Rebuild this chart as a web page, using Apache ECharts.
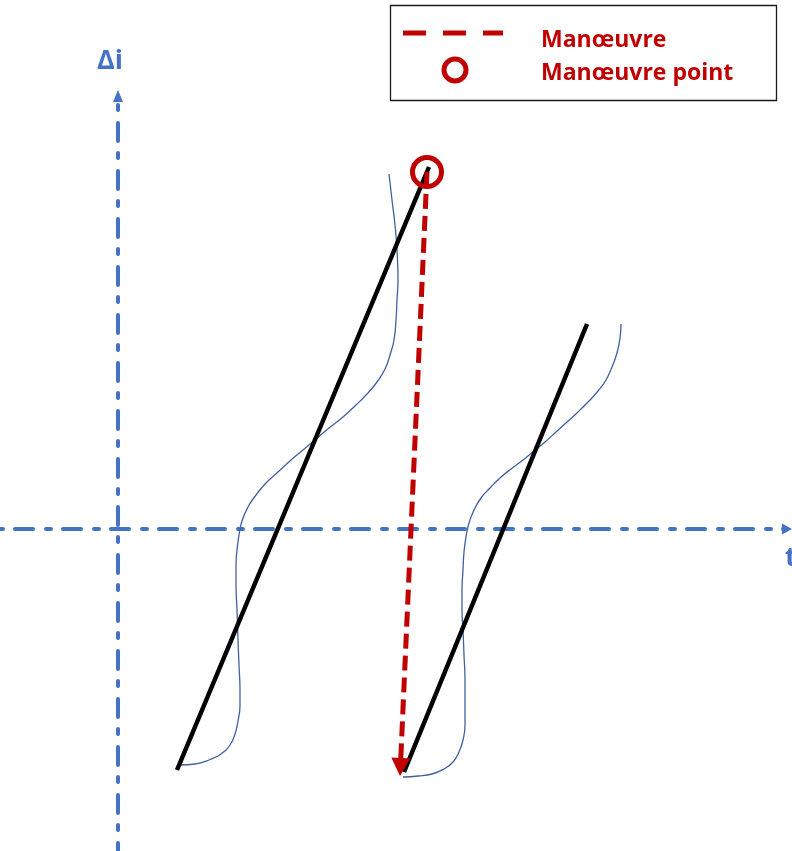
<!DOCTYPE html>
<html>
<head>
<meta charset="utf-8">
<title>Δi drift and manœuvre</title>
<script src="https://cdn.jsdelivr.net/npm/echarts@6/dist/echarts.min.js"></script>
<style>
  html, body { margin: 0; padding: 0; background: #fff; }
  #chart { width: 792px; height: 851px; }
</style>
</head>
<body>
<div id="chart"></div>
<script>
// Schematic Δi(t): secular drift (black), oscillating Δi (blue), manœuvre reset (red).
const driftBefore = [[5.9, -24.1], [31.1, 36.2]];
const driftAfter = [[28.6, -24.3], [46.9, 20.5]];

const oscillationBefore = [
  [6.2, -23.6], [7.7, -23.5], [9.1, -23.1], [10.3, -22.5], [11.2, -21.6],
  [11.7, -20.5], [12.0, -19.2], [12.2, -17.6], [12.2, -16.1], [12.1, -13.6],
  [12.0, -11.1], [11.9, -8.1], [11.8, -5.6], [11.8, -3.6], [11.9, -2.1],
  [12.1, -0.6], [12.4, 0.8], [13.0, 2.2], [13.8, 3.4], [14.8, 4.6],
  [16.0, 5.7], [17.3, 6.9], [18.5, 7.9], [19.8, 9.0], [21.1, 10.1],
  [22.5, 11.2], [23.8, 12.4], [24.9, 13.5], [25.9, 14.7], [26.7, 16.0],
  [27.2, 17.4], [27.6, 18.9], [27.8, 20.9], [27.9, 22.9], [28.0, 24.9],
  [27.9, 27.9], [27.7, 30.4], [27.4, 32.9], [27.1, 35.5]
];
const oscillationAfter = [
  [28.5, -24.8], [30.0, -24.7], [31.4, -24.5], [32.6, -24.0], [33.5, -23.3],
  [34.1, -22.3], [34.5, -21.1], [34.7, -19.6], [34.7, -17.6], [34.7, -15.1],
  [34.6, -12.6], [34.5, -10.1], [34.4, -8.1], [34.4, -6.1], [34.5, -4.1],
  [34.6, -2.3], [34.8, -0.8], [35.1, 0.6], [35.6, 1.9], [36.3, 3.1],
  [37.2, 4.1], [38.2, 5.1], [39.3, 6.0], [40.5, 6.9], [41.6, 7.8],
  [42.7, 8.7], [43.8, 9.7], [44.9, 10.7], [46.0, 11.7], [47.1, 12.8],
  [48.0, 13.8], [48.8, 14.9], [49.4, 16.2], [49.9, 17.6], [50.2, 19.1],
  [50.3, 20.5]
];

const manoeuvrePoint = [30.9, 35.7];
const manoeuvreEnd = [28.24, -23.8];

const legendLabels = ['Manœuvre', 'Manœuvre point'];
const axisNames = ['t', 'Δi'];

const RED = '#C00000';
const AXIS_BLUE = '#4472C4';
const CURVE_BLUE = '#41609f';

const chart = echarts.init(document.getElementById('chart'), null, { renderer: 'canvas' });

const axisLineStyle = {
  color: AXIS_BLUE,
  width: 4,
  type: [18, 13, 5, 12],
  dashOffset: 33
};

const curveStyle = { color: CURVE_BLUE, width: 1.3 };

chart.setOption({
  animation: false,
  backgroundColor: '#ffffff',
  grid: { left: 0, right: 5, top: 96, bottom: 0, containLabel: false },
  xAxis: {
    type: 'value',
    min: -11.8,
    max: 66.9,
    axisLine: {
      show: true,
      onZero: true,
      symbol: ['none', 'triangle'],
      symbolSize: [11, 10],
      lineStyle: axisLineStyle
    },
    axisTick: { show: false },
    axisLabel: { show: false },
    splitLine: { show: false }
  },
  yAxis: {
    type: 'value',
    min: -32.2,
    max: 43.3,
    axisLine: {
      show: true,
      onZero: true,
      symbol: ['none', 'triangle'],
      symbolSize: [10, 12],
      lineStyle: Object.assign({}, axisLineStyle, { dashOffset: 10 })
    },
    axisTick: { show: false },
    axisLabel: { show: false },
    splitLine: { show: false }
  },
  series: [
    {
      name: 'oscillation-before',
      type: 'line',
      data: oscillationBefore,
      smooth: 0.5,
      symbol: 'none',
      z: 2,
      lineStyle: curveStyle
    },
    {
      name: 'oscillation-after',
      type: 'line',
      data: oscillationAfter,
      smooth: 0.5,
      symbol: 'none',
      z: 2,
      lineStyle: curveStyle
    },
    {
      name: 'drift-before',
      type: 'line',
      data: driftBefore,
      symbol: 'none',
      z: 3,
      lineStyle: { color: '#000000', width: 4.5 }
    },
    {
      name: 'drift-after',
      type: 'line',
      data: driftAfter,
      symbol: 'none',
      z: 3,
      lineStyle: { color: '#000000', width: 4.5 }
    },
    {
      name: legendLabels[1],
      type: 'scatter',
      data: [manoeuvrePoint],
      symbol: 'circle',
      symbolSize: 29,
      z: 5,
      itemStyle: { color: 'rgba(0,0,0,0)', borderColor: RED, borderWidth: 5, opacity: 1 },
      markLine: {
        silent: true,
        symbol: ['none', 'triangle'],
        symbolSize: [19, 18],
        label: { show: false },
        lineStyle: { color: RED, width: 5, type: [15, 7], opacity: 1 },
        emphasis: { disabled: true },
        data: [[{ coord: manoeuvrePoint }, { coord: manoeuvreEnd }]]
      }
    }
  ],
  graphic: [
    {
      type: 'rect',
      shape: { x: 390.5, y: 5.5, width: 386, height: 95 },
      style: { fill: '#ffffff', stroke: '#1a1a1a', lineWidth: 1.3 },
      z: 10
    },
    {
      type: 'line',
      shape: { x1: 403, y1: 33, x2: 503, y2: 33 },
      style: { stroke: RED, lineWidth: 5, lineDash: [23, 17] },
      z: 11
    },
    {
      type: 'circle',
      shape: { cx: 455, cy: 70, r: 11 },
      style: { fill: 'none', stroke: RED, lineWidth: 5 },
      z: 11
    },
    {
      type: 'text',
      x: 541, y: 40,
      style: {
        text: legendLabels[0], fill: RED,
        font: 'bold 23px "Open Sans", sans-serif',
        verticalAlign: 'middle', align: 'left'
      },
      z: 11
    },
    {
      type: 'text',
      x: 541, y: 73,
      style: {
        text: legendLabels[1], fill: RED,
        font: 'bold 23px "Open Sans", sans-serif',
        verticalAlign: 'middle', align: 'left'
      },
      z: 11
    },
    {
      type: 'text',
      x: 110, y: 61,
      style: {
        text: axisNames[1], fill: AXIS_BLUE,
        font: 'bold 27px "Open Sans", sans-serif',
        verticalAlign: 'middle', align: 'center'
      },
      z: 11
    },
    {
      type: 'text',
      x: 785, y: 558,
      style: {
        text: axisNames[0], fill: AXIS_BLUE,
        font: 'bold 27px "Open Sans", sans-serif',
        verticalAlign: 'middle', align: 'left'
      },
      z: 11
    }
  ]
});
</script>
</body>
</html>
